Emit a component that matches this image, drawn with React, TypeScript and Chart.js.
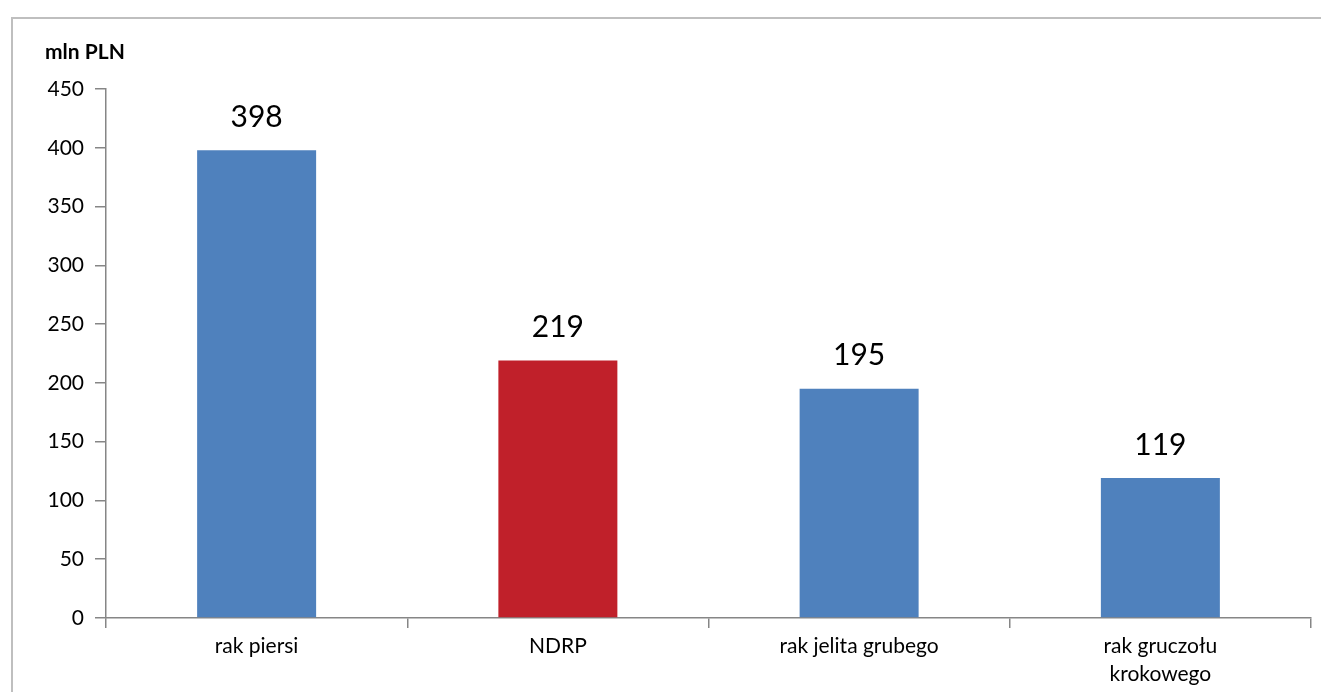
import React, { useEffect, useRef } from "react";
import { Chart, registerables } from "chart.js";

Chart.register(...registerables);

const categories: (string | string[])[] = ["rak piersi", "NDRP", "rak jelita grubego", ["rak gruczołu", "krokowego"]];
const values: number[] = [398, 219, 195, 119];
const barColors: string[] = ["#4F81BD", "#C0202A", "#4F81BD", "#4F81BD"];
const yTicks = { min: 0, max: 450, step: 50 };
const unitLabel = "mln PLN";

const FONT = "Lato, 'Open Sans', sans-serif";

export default function App() {
  const ref = useRef<HTMLCanvasElement | null>(null);
  useEffect(() => {
    document.body.style.margin = "0";
    const labelsPlugin = {
      id: "valueLabels",
      afterDatasetsDraw(chart: any) {
        const ctx = chart.ctx;
        const meta = chart.getDatasetMeta(0);
        ctx.save();
        ctx.font = `30px ${FONT}`;
        ctx.fillStyle = "#000";
        ctx.textAlign = "center";
        ctx.textBaseline = "middle";
        meta.data.forEach((el: any, i: number) => {
          ctx.fillText(String(values[i]), el.x, el.y - 33);
        });
        ctx.font = `bold 21px ${FONT}`;
        ctx.textAlign = "left";
        ctx.fillText(unitLabel, 45, 52);
        ctx.restore();
      },
    };
    const chart = new Chart(ref.current!, {
      type: "bar",
      data: {
        labels: categories,
        datasets: [
          {
            data: values,
            backgroundColor: barColors,
            borderWidth: 0,
            categoryPercentage: 1,
            barPercentage: 0.395,
          },
        ],
      },
      options: {
        animation: false,
        responsive: false,
        maintainAspectRatio: false,
        layout: { padding: { top: 89, right: 10, left: 0, bottom: 0 } },
        plugins: { legend: { display: false }, tooltip: { enabled: false }, title: { display: false } },
        scales: {
          x: {
            afterFit(scale: any) {
              scale.height = 74;
            },
            border: { display: true, color: "#868686", width: 1.5 },
            grid: { offset: true, drawOnChartArea: false, drawTicks: true, tickLength: 10, color: "#868686", lineWidth: 1.5 },
            ticks: { color: "#000", font: { family: FONT, size: 21, lineHeight: 1.33 }, padding: 4, maxRotation: 0, autoSkip: false },
          },
          y: {
            min: yTicks.min,
            max: yTicks.max,
            afterFit(scale: any) {
              scale.width = 106;
            },
            border: { display: true, color: "#868686", width: 1.5 },
            grid: { drawOnChartArea: false, drawTicks: true, tickLength: 11, color: "#868686", lineWidth: 1.5 },
            ticks: { stepSize: yTicks.step, color: "#000", font: { family: FONT, size: 21 }, padding: 11 },
          },
        },
      },
      plugins: [labelsPlugin],
    });
    return () => chart.destroy();
  }, []);
  return (
    <div style={{ position: "fixed", left: 0, top: 0, width: 1321, height: 692, background: "#fff", overflow: "hidden" }}>
      <div style={{ position: "absolute", left: 11, top: 17, width: 1400, height: 800, borderTop: "2px solid #BFBFBF", borderLeft: "2px solid #BFBFBF" }} />
      <canvas ref={ref} width={1321} height={692} style={{ position: "absolute", left: 0, top: 0 }} />
    </div>
  );
}
